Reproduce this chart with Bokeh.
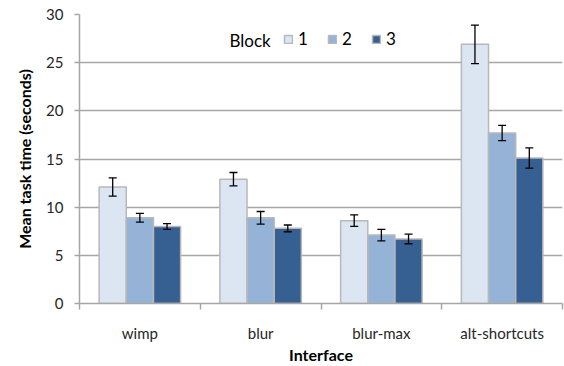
from bokeh.plotting import figure
from bokeh.models import (ColumnDataSource, Range1d, FixedTicker,
                          Whisker, TeeHead, Legend, LegendItem, Label)
from bokeh.transform import dodge
from bokeh.embed import file_html
from bokeh.resources import INLINE

interfaces = ["wimp", "blur", "blur-max", "alt-shortcuts"]
blocks = ["1", "2", "3"]
legend_title = "Block"
block1 = [12.1, 12.9, 8.6, 26.9]
block2 = [8.9, 8.9, 7.1, 17.7]
block3 = [8.0, 7.8, 6.7, 15.1]
err1 = [0.95, 0.7, 0.6, 2.0]
err2 = [0.45, 0.65, 0.6, 0.8]
err3 = [0.3, 0.35, 0.5, 1.05]
y_ticks = [0, 5, 10, 15, 20, 25, 30]

colors = ["#DCE6F2", "#95B3D7", "#376092"]
offsets = [-0.225, 0.0, 0.225]
FONT = "Lato"
TXT = "#262626"

n = len(interfaces)
centers = [i + 0.5 for i in range(n)]

p = figure(x_range=Range1d(0, n), y_range=Range1d(0, 30),
           width=564, height=366, output_backend="svg", toolbar_location=None,
           min_border_left=79, min_border_right=2,
           min_border_top=14, min_border_bottom=62)
p.outline_line_color = None
p.background_fill_color = "white"
p.border_fill_color = "white"

# y axis
p.yaxis.ticker = FixedTicker(ticks=y_ticks)
p.yaxis.axis_label = "Mean task time (seconds)"
p.yaxis.axis_label_text_font = FONT
p.yaxis.axis_label_text_font_style = "bold"
p.yaxis.axis_label_text_font_size = "16px"
p.yaxis.axis_label_text_color = "black"
p.yaxis.axis_label_standoff = 9
p.yaxis.major_label_text_font = FONT
p.yaxis.major_label_text_font_size = "15px"
p.yaxis.major_label_text_color = TXT
p.yaxis.major_label_standoff = 11
p.yaxis.major_tick_out = 5
p.yaxis.major_tick_in = 0
p.yaxis.minor_tick_line_color = None
p.yaxis.axis_line_color = "#A6A6A6"
p.yaxis.axis_line_width = 1.5
p.yaxis.major_tick_line_color = "#A6A6A6"
p.yaxis.major_tick_line_width = 1.5

p.xgrid.grid_line_color = None
p.ygrid.grid_line_color = "#A6A6A6"
p.ygrid.grid_line_width = 1.5
p.ygrid.ticker = FixedTicker(ticks=y_ticks)

# x axis: labels at group centres, ticks at group boundaries
xaxis = p.xaxis[0]
xaxis.ticker = FixedTicker(ticks=centers, minor_ticks=list(range(n + 1)))
xaxis.major_label_overrides = {c: name for c, name in zip(centers, interfaces)}
xaxis.axis_label = "Interface"
xaxis.axis_label_text_font = FONT
xaxis.axis_label_text_font_style = "bold"
xaxis.axis_label_text_font_size = "16px"
xaxis.axis_label_text_color = "black"
xaxis.axis_label_standoff = 0
xaxis.major_label_text_font = FONT
xaxis.major_label_text_font_size = "15px"
xaxis.major_label_text_color = TXT
xaxis.major_label_standoff = 14
xaxis.major_tick_out = 0
xaxis.major_tick_in = 0
xaxis.minor_tick_out = 6
xaxis.minor_tick_in = 0
xaxis.axis_line_color = "#A6A6A6"
xaxis.axis_line_width = 1.5
xaxis.minor_tick_line_color = "#A6A6A6"
xaxis.minor_tick_line_width = 1.5

source = ColumnDataSource(data=dict(
    x=centers, iface=interfaces, b1=block1, b2=block2, b3=block3,
    up1=[v + e for v, e in zip(block1, err1)], lo1=[v - e for v, e in zip(block1, err1)],
    up2=[v + e for v, e in zip(block2, err2)], lo2=[v - e for v, e in zip(block2, err2)],
    up3=[v + e for v, e in zip(block3, err3)], lo3=[v - e for v, e in zip(block3, err3)],
))

items = []
for k, (col, off) in enumerate(zip(colors, offsets)):
    r = p.vbar(x=dodge("x", off), top="b%d" % (k + 1), width=0.225,
               source=source, fill_color=col, line_color="#B8B8B8", line_width=1.5)
    items.append(LegendItem(label=blocks[k], renderers=[r]))
    w = Whisker(base=dodge("x", off), upper="up%d" % (k + 1),
                lower="lo%d" % (k + 1), source=source, line_color="black", line_width=1.3,
                level="overlay",
                upper_head=TeeHead(size=8, line_color="black", line_width=1.3),
                lower_head=TeeHead(size=8, line_color="black", line_width=1.3))
    p.add_layout(w)

legend = Legend(items=items, orientation="horizontal", location=(204, 254))
legend.label_text_font = FONT
legend.label_text_font_size = "17px"
legend.label_text_color = "black"
legend.glyph_width = 10
legend.glyph_height = 10
legend.label_standoff = 5
legend.label_width = 10
legend.spacing = 19
legend.border_line_color = None
legend.background_fill_alpha = 0
legend.padding = 0
legend.margin = 0
p.add_layout(legend, "center")

p.add_layout(Label(x=1.242, y=27.35, text=legend_title, text_font=FONT,
                   text_font_size="17px", text_color="black",
                   text_align="left", text_baseline="middle"))

open("out.html", "w").write(file_html(p, INLINE))
